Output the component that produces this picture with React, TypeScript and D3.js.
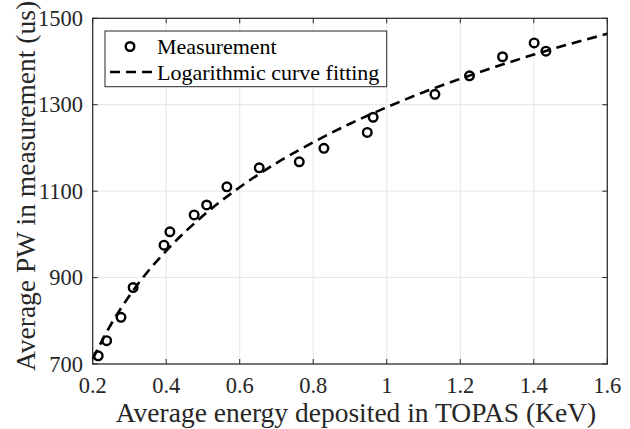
import React from "react";
import * as d3 from "d3";

const measX = [0.215, 0.238, 0.277, 0.31, 0.394, 0.41, 0.476, 0.51, 0.565, 0.653, 0.762, 0.829, 0.947, 0.963, 1.131, 1.225, 1.315, 1.401, 1.433];
const measY = [719, 754, 808, 877, 975, 1006, 1045, 1068, 1110, 1154, 1168, 1199, 1236, 1271, 1324, 1367, 1411, 1443, 1424];

const fitX = [0.2, 0.25, 0.3, 0.35, 0.4, 0.5, 0.6, 0.7, 0.8, 0.9, 1.0, 1.1, 1.2, 1.3, 1.4, 1.5, 1.6];
const fitY = [712, 792, 858, 914, 962, 1043, 1109, 1165, 1213, 1256, 1294, 1329, 1360, 1389, 1416, 1441, 1464];

const xTicks = [0.2, 0.4, 0.6, 0.8, 1.0, 1.2, 1.4, 1.6];
const yTicks = [700, 900, 1100, 1300, 1500];

const seriesNames = ["Measurement", "Logarithmic curve fitting"];
const xTitle = "Average energy deposited in TOPAS (KeV)";
const yTitle = "Average PW in measurement (us)";

export default function App() {
  const W = 630, H = 429;
  const L = 92.7, R = 607.3, T = 18.3, B = 364;
  const x = d3.scaleLinear().domain([0.2, 1.6]).range([L, R]);
  const y = d3.scaleLinear().domain([700, 1500]).range([B, T]);
  const font = "'Liberation Serif', 'Times New Roman', Times, serif";
  const ink = "#262626";
  const line = d3.line<number>().x((_, i) => x(fitX[i])).y((_, i) => y(fitY[i])).curve(d3.curveMonotoneX);
  const fitPath = line(fitX as any) || "";
  const fmt = (v: number) => (v === 1 ? "1" : String(v));
  const tl = 5;
  const ts = { fontFamily: font };
  const tickFs = 22.5;
  const titleFs = 27.5;
  const legFs = 22;
  return (
    <svg width={W} height={H} style={{ position: "absolute", left: 0, top: 0, background: "#fff" }}>
      <rect x={0} y={0} width={W} height={H} fill="#fff" />
      {xTicks.map((t) => (
        <line key={"gx" + t} x1={x(t)} x2={x(t)} y1={T} y2={B} stroke="#e5e5e5" strokeWidth={1} />
      ))}
      {yTicks.map((t) => (
        <line key={"gy" + t} x1={L} x2={R} y1={y(t)} y2={y(t)} stroke="#e5e5e5" strokeWidth={1} />
      ))}
      <path d={fitPath} fill="none" stroke="#000" strokeWidth={2.6} strokeDasharray="10,6" />
      {measX.map((v, i) => (
        <circle key={"m" + i} cx={x(v)} cy={y(measY[i])} r={4.3} fill="none" stroke="#000" strokeWidth={2.4} />
      ))}
      <rect x={L} y={T} width={R - L} height={B - T} fill="none" stroke={ink} strokeWidth={1.2} />
      {xTicks.map((t) => (
        <g key={"tx" + t}>
          <line x1={x(t)} x2={x(t)} y1={B} y2={B - tl} stroke={ink} />
          <line x1={x(t)} x2={x(t)} y1={T} y2={T + tl} stroke={ink} />
          <text x={x(t)} y={393} textAnchor="middle" fontSize={tickFs} fill={ink} style={ts}>{fmt(t)}</text>
        </g>
      ))}
      {yTicks.map((t) => (
        <g key={"ty" + t}>
          <line x1={L} x2={L + tl} y1={y(t)} y2={y(t)} stroke={ink} />
          <line x1={R} x2={R - tl} y1={y(t)} y2={y(t)} stroke={ink} />
          <text x={83} y={y(t) + 7.5} textAnchor="end" fontSize={tickFs} fill={ink} style={ts}>{t}</text>
        </g>
      ))}
      <text x={(L + R) / 2 + 6} y={422} textAnchor="middle" fontSize={titleFs} fill={ink} style={ts}>{xTitle}</text>
      <text transform={`translate(35,186) rotate(-90)`} textAnchor="middle" fontSize={titleFs} fill={ink} style={ts}>{yTitle}</text>
      <g>
        <rect x={105} y={31} width={281.7} height={55.7} fill="#fff" stroke={ink} strokeWidth={1} />
        <circle cx={130} cy={46.5} r={4.3} fill="none" stroke="#000" strokeWidth={2.4} />
        <line x1={110} x2={156} y1={72} y2={72} stroke="#000" strokeWidth={2.6} strokeDasharray="10,6" />
        <text x={157} y={53.5} fontSize={legFs} fill="#000" style={ts}>{seriesNames[0]}</text>
        <text x={157} y={80} fontSize={legFs} fill="#000" style={ts}>{seriesNames[1]}</text>
      </g>
    </svg>
  );
}
